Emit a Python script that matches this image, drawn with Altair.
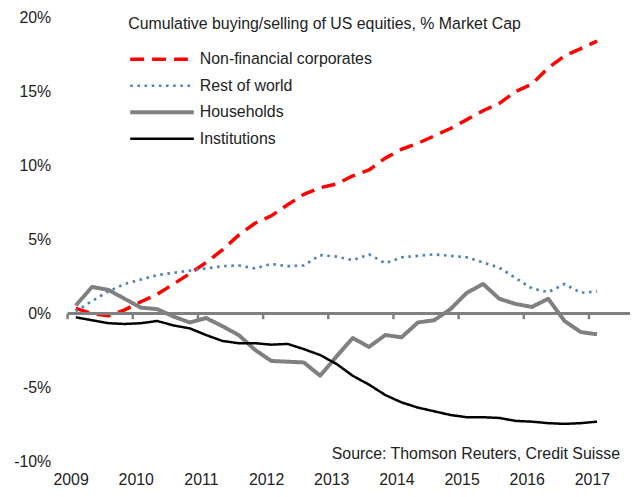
import altair as alt
import pandas as pd

# Quarter mid-points (2009Q1 .. 2017Q1)
quarters = [2009.125 + 0.25 * i for i in range(33)]

nonfin = [0.35, 0.0, -0.15, 0.25, 0.8, 1.3, 2.0, 2.7, 3.45, 4.3, 5.3, 6.1, 6.6, 7.35, 8.05, 8.5,
          8.75, 9.3, 9.7, 10.5, 11.1, 11.5, 12.0, 12.5, 13.1, 13.7, 14.2, 15.0, 15.5, 16.6, 17.4, 17.9, 18.4]
rest_world = [0.15, 0.85, 1.5, 2.0, 2.3, 2.6, 2.75, 2.9, 3.05, 3.2, 3.25, 3.05, 3.35, 3.2, 3.25, 3.95,
              3.85, 3.6, 4.0, 3.4, 3.8, 3.9, 4.0, 3.9, 3.8, 3.45, 3.1, 2.4, 1.7, 1.45, 2.0, 1.4, 1.5]
households = [0.55, 1.8, 1.6, 1.0, 0.4, 0.3, -0.2, -0.6, -0.3, -0.85, -1.45, -2.45, -3.2, -3.25, -3.3, -4.2,
              -2.9, -1.65, -2.25, -1.45, -1.6, -0.6, -0.45, 0.3, 1.4, 2.0, 1.0, 0.65, 0.45, 1.0, -0.5, -1.25, -1.4]
institutions = [-0.25, -0.45, -0.65, -0.7, -0.65, -0.5, -0.8, -1.0, -1.45, -1.85, -2.0, -2.0, -2.1, -2.05, -2.4, -2.8,
                -3.4, -4.2, -4.8, -5.5, -6.0, -6.35, -6.6, -6.85, -7.0, -7.0, -7.05, -7.25, -7.3, -7.4, -7.45, -7.4, -7.3]

series_names = ["Non-financial corporates", "Rest of world", "Households", "Institutions"]
series_values = [nonfin, rest_world, households, institutions]
colors = ["#FF0000", "#4F81BD", "#808080", "#000000"]
dashes = [[14, 8], [2.6, 4.6], [1, 0], [1, 0]]
widths = [3.5, 2.7, 4.0, 2.5]

year_ticks = [2009, 2010, 2011, 2012, 2013, 2014, 2015, 2016, 2017]
y_ticks = [-10, -5, 0, 5, 10, 15, 20]

title_text = "Cumulative buying/selling of US equities, % Market Cap"
source_text = "Source: Thomson Reuters, Credit Suisse"
FONT = "Liberation Sans"
TXT = "#222222"

rows = []
for name, vals in zip(series_names, series_values):
    for q, v in zip(quarters, vals):
        rows.append({"date": q, "value": v, "series": name})
df = pd.DataFrame(rows)

xscale = alt.Scale(domain=[2009, 2017.63], nice=False, zero=False)
yscale = alt.Scale(domain=[-10, 20], nice=False)

x_axis = alt.Axis(
    values=year_ticks, format="d", domain=False, ticks=False, tickSize=0, grid=False,
    labelFontSize=16, labelFont=FONT, labelColor=TXT, labelPadding=10,
    labelFlush=False, labelOverlap=False, labelOffset=3, title=None,
)
y_axis = alt.Axis(
    values=y_ticks, labelExpr="datum.value + '%'", domain=False, ticks=False, tickSize=0,
    grid=False, labelFontSize=16, labelFont=FONT, labelColor=TXT, labelPadding=17, title=None,
)

legend = alt.Legend(title=title_text, orient="none", legendX=61, legendY=-1)

lines = alt.Chart(df).mark_line(strokeJoin="round").encode(
    x=alt.X("date:Q", scale=xscale, axis=x_axis),
    y=alt.Y("value:Q", scale=yscale, axis=y_axis),
    color=alt.Color("series:N", scale=alt.Scale(domain=series_names, range=colors), legend=legend),
    strokeDash=alt.StrokeDash("series:N", scale=alt.Scale(domain=series_names, range=dashes), legend=legend),
    strokeWidth=alt.StrokeWidth(
        "series:N", scale=alt.Scale(type="ordinal", domain=series_names, range=widths), legend=legend
    ),
    order=alt.Order("date:Q"),
)

zero_line = alt.Chart(pd.DataFrame({"v": [0]})).mark_rule(
    color="#808080", strokeWidth=3
).encode(y=alt.Y("v:Q", scale=yscale, axis=y_axis))

tick_df = pd.DataFrame({"year": year_ticks})
tick_marks = alt.Chart(tick_df).mark_rule(color="#808080", strokeWidth=2.5).encode(
    x=alt.X("year:Q", scale=xscale, axis=x_axis),
    y=alt.datum(0, scale=yscale, axis=y_axis),
    y2=alt.datum(-0.38),
)

source = alt.Chart(pd.DataFrame({"x": [2017.476], "y": [-9.47], "t": [source_text]})).mark_text(
    align="right", baseline="middle", fontSize=16, font=FONT, color=TXT
).encode(
    x=alt.X("x:Q", scale=xscale, axis=x_axis),
    y=alt.Y("y:Q", scale=yscale, axis=y_axis),
    text="t:N",
)

chart = alt.layer(lines, zero_line, tick_marks, source).properties(
    width=566, height=447, padding={"left": 5, "top": 0, "right": 0, "bottom": 0}
).configure_view(stroke=None).configure_legend(
    padding=0,
    titleFontSize=16, titleFont=FONT, titleFontWeight="normal", titleColor=TXT, titleLimit=700,
    titlePadding=17,
    labelFontSize=16, labelFont=FONT, labelColor=TXT, labelLimit=500, labelOffset=4,
    symbolSize=4096, symbolType="stroke", clipHeight=20, rowPadding=6.7,
)

chart.save("out.html", embed_options={"renderer": "svg", "actions": False})
